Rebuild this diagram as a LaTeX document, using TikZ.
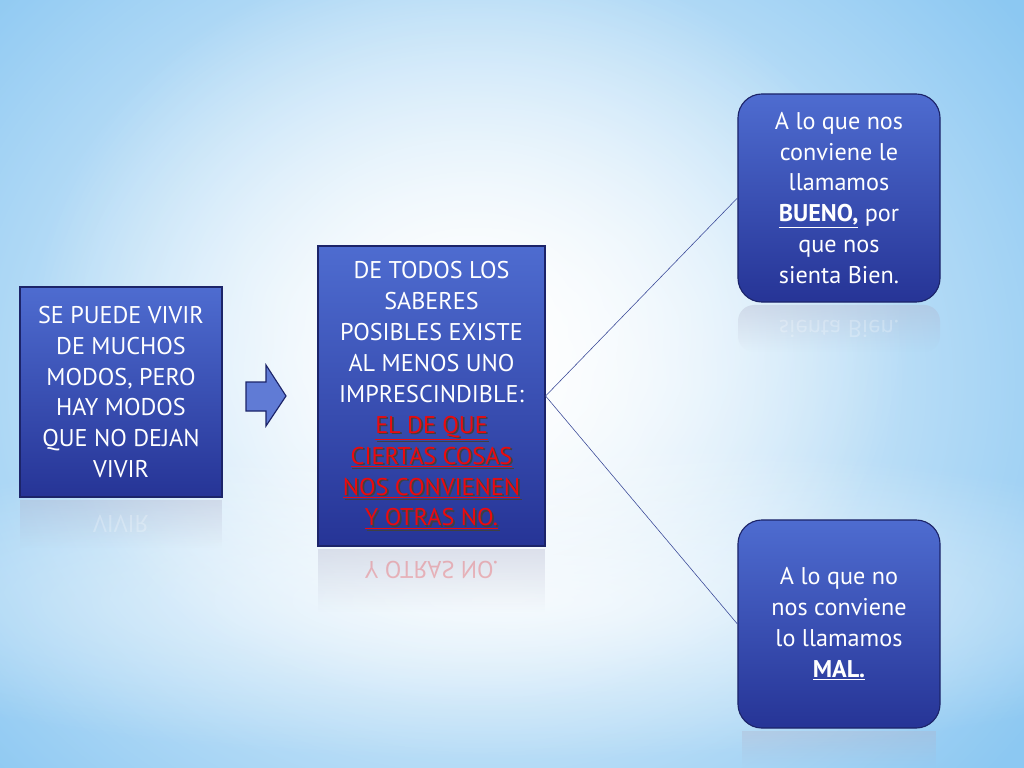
\documentclass[tikz,border=0pt]{standalone}
\usepackage{fontspec}
\setmainfont{PT Sans}
\usetikzlibrary{positioning,calc,fadings}
\definecolor{sky}{RGB}{140,200,242}
\definecolor{boxtop}{RGB}{78,108,208}
\definecolor{boxbot}{RGB}{38,52,150}
\definecolor{boxline}{RGB}{28,36,105}
\definecolor{linkblue}{RGB}{55,70,150}
\definecolor{alarm}{RGB}{236,10,14}
\tikzfading[name=glow, inner color=transparent!0, outer color=transparent!100]
\newcommand{\alarmline}[1]{\rlap{\kern1.2pt\raisebox{-1.2pt}{\textcolor{black!75}{\underline{#1}}}}\textcolor{alarm}{\underline{#1}}}
\tikzset{
  plainbox/.style={draw=boxline, thick, top color=boxtop, bottom color=boxbot,
    text=white, align=center, inner sep=0pt,
    font=\fontsize{17.2}{22}\selectfont},
  roundbox/.style={plainbox, rounded corners=0.6cm},
  mirror/.style={yscale=-1, opacity=0.25, font=\fontsize{17.2}{22}\selectfont},
  glass/.style={fill=boxline!35, path fading=south, opacity=0.35}
}

\begin{document}
\begin{tikzpicture}[x=0.025cm, y=-0.025cm]
  \useasboundingbox (0,0) rectangle (1024,768);
  % background
  \fill[sky] (0,0) rectangle (1024,768);
  \fill[white, path fading=glow] (480,380) ellipse (680 and 600);
  \fill[white, path fading=glow] (470,330) ellipse (440 and 380);
  \fill[white, opacity=0.7, path fading=glow] (512,600) ellipse (760 and 160);

  % boxes
  \node[plainbox, minimum width=5.05cm, minimum height=5.25cm] (life) at (121,392)
    {SE PUEDE VIVIR\\DE MUCHOS\\MODOS, PERO\\HAY MODOS\\QUE NO DEJAN\\VIVIR};

  \node[plainbox, minimum width=5.675cm, minimum height=7.5cm] (know) at (431.5,396)
    {DE TODOS LOS\\SABERES\\POSIBLES EXISTE\\AL MENOS UNO\\IMPRESCINDIBLE:\\
     \alarmline{EL DE QUE}\\
     \alarmline{CIERTAS COSAS}\\
     \alarmline{NOS CONVIENEN}\\
     \alarmline{Y OTRAS NO.}};

  \node[roundbox, minimum width=5.05cm, minimum height=5.2cm] (good) at (839,198)
    {A lo que nos\\conviene le\\llamamos\\\underline{\textbf{BUENO,}} por\\que nos\\sienta Bien.};

  \node[roundbox, minimum width=5.05cm, minimum height=5.2cm] (bad) at (839,624)
    {A lo que no\\nos conviene\\lo llamamos\\\underline{\textbf{MAL.}}};

  % reflections
  \fill[glass] (20,500) rectangle (222,548);
  \fill[glass] (318,549) rectangle (545,612);
  \fill[glass, rounded corners=0.4cm] (738,305) rectangle (940,352);
  \fill[glass] (742,731) rectangle (936,768);
  \node[mirror, text=white] (lifeecho) at (121,524) {VIVIR};
  \node[mirror, text=alarm] (knowecho) at (431.5,570) {Y OTRAS NO.};
  \node[mirror, text=white] (goodecho) at (839,329) {sienta Bien.};

  % arrow
  \draw[boxline, fill=boxtop!90!white, thick]
    (246,382) -- (266,382) -- (266,365) -- (286,396) -- (266,426)
    -- (266,411) -- (246,411) -- cycle;

  % links
  \draw[linkblue] (know.east) -- (good.west);
  \draw[linkblue] (know.east) -- (bad.west);
\end{tikzpicture}
\end{document}
